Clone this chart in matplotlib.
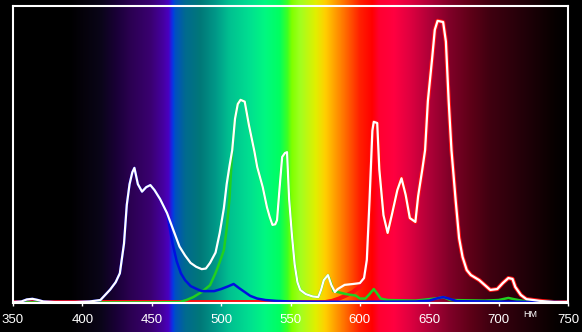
import numpy as np
import matplotlib
matplotlib.use("Agg")
import matplotlib.pyplot as plt
from matplotlib.colors import LinearSegmentedColormap, to_rgb

# ---- data (wavelength nm, relative intensity %) ----
white_nm = [350, 356, 360, 364, 368, 372, 380, 395, 405, 410, 413, 416, 420, 424, 427, 430, 432, 434,
            436, 437.5, 440, 443, 446, 449, 452, 456, 461, 466, 470, 474, 478, 482, 486, 489, 492, 496,
            499, 502, 504, 506, 508, 510, 512, 514, 517, 520, 524, 526, 530, 533, 535, 537, 539, 540.3,
            542, 544, 546, 547.5, 549, 551, 553, 555, 557, 561, 566, 570, 572, 574, 577, 579.5, 582,
            584, 589, 595, 600, 603, 605, 607, 609, 610, 612.5, 614, 617, 620, 623, 627, 630, 633, 636,
            640, 642, 645, 647, 649, 652, 654, 656, 660, 662, 664, 666, 669, 671.5, 674, 677, 680, 686,
            694, 699, 703, 707, 710, 712, 716, 720, 730, 740, 750]
white_val = [0.3, 0.5, 1.2, 1.4, 1.0, 0.5, 0.3, 0.3, 0.5, 0.8, 1.0, 2.5, 4.5, 7, 10, 20, 33, 40,
             44, 45.5, 40, 37.5, 39, 39.7, 38, 35, 30.3, 24, 19, 16, 13.5, 12.2, 11.4, 11.6, 13.5, 17,
             23.6, 32, 40, 46, 51.5, 62, 67, 68.4, 67.8, 60, 51, 45.8, 39, 32.3, 29, 26.3, 26.5, 27.9,
             38, 49.2, 50.5, 50.8, 35, 23, 13, 7, 4.4, 3, 2.2, 2.0, 4.4, 7.7, 9.4, 6, 3.7,
             4.7, 6.1, 6.4, 6.7, 8.4, 14.5, 35, 58, 61, 60.6, 45, 29.6, 23.6, 29.6, 38, 42, 36.4, 28.6,
             27.3, 36, 45, 51.5, 68, 82, 92, 95, 94.6, 88, 68, 51.5, 34.7, 21.9, 15.5, 11.1, 9.4, 7.7,
             4.4, 4.7, 6.7, 8.4, 8.1, 5.4, 2.7, 1.3, 0.7, 0.3, 0.3]

blue_nm_tail = [465, 468, 471, 474, 478, 482, 486, 490, 495, 500, 505, 509, 513, 517, 521, 526, 532,
                540, 550, 570, 600, 640, 650, 656, 660, 664, 670, 700, 720, 740, 750]
blue_val_tail = [20, 14, 10, 7.7, 5.7, 4.8, 4.0, 4.0, 4.0, 4.7, 5.6, 6.4, 5.0, 3.7, 2.4, 1.5, 1.0,
                 0.7, 0.5, 0.4, 0.4, 0.5, 0.8, 1.6, 2.0, 1.5, 0.6, 0.5, 0.4, 0.4, 0.3]

green_nm_head = [350, 400, 450, 470, 475, 480, 486, 492, 496, 499, 502, 504, 506]
green_val_head = [0.2, 0.2, 0.2, 0.3, 1.0, 2.0, 3.7, 6.0, 10.1, 13.8, 17.8, 25, 35]
green_nm_tail = [579, 581, 584, 590, 597, 600, 604, 607, 610, 612, 615, 620, 640, 656, 660, 665,
                 690, 700, 707, 712, 720, 740, 750]
green_val_tail = [7.0, 4.0, 3.7, 3.0, 2.5, 1.5, 1.5, 3.0, 4.7, 3.5, 1.5, 1.0, 0.8, 1.6, 2.0, 1.0,
                  0.8, 1.0, 1.7, 1.2, 0.5, 0.3, 0.3]

red_nm_head = [350, 400, 500, 575, 580, 585, 590, 595, 600]
red_val_head = [0.3, 0.3, 0.3, 0.3, 0.7, 1.5, 2.5, 3.7, 5.5]

spec_nm = [350, 390, 400, 413, 425, 434, 449, 458, 462, 464, 465.5, 467, 474, 485, 496, 506, 521,
           532, 542, 548, 551, 557, 568, 575, 582, 589, 600, 609, 614, 625, 636, 650, 665, 679, 694,
           720, 740, 750]
spec_col = ["#000000", "#000000", "#05020a", "#0a0518", "#1a0038", "#2a0050", "#3a0070", "#4500a0",
            "#4a00c0", "#2020e0", "#0040e0", "#0050c0", "#006a90", "#007878", "#009888", "#00c090",
            "#00e090", "#00f880", "#00ff60", "#40ff20", "#80ff00", "#a0ff20", "#e0f000", "#ffd000",
            "#ffa000", "#ff7000", "#ff2000", "#ff0000", "#ff0030", "#ff0040", "#e00040", "#b00038",
            "#800028", "#600018", "#400010", "#200008", "#080000", "#000000"]

xticks = [350, 400, 450, 500, 550, 600, 650, 700, 750]
unit_label = "нм"

# ---- derived series ----
wn = np.array(white_nm, float)
wv = np.array(white_val, float)
bmask = wn < 463
blue_nm = np.concatenate([wn[bmask], blue_nm_tail])
blue_val = np.concatenate([wv[bmask], blue_val_tail])
gmask = (wn >= 508) & (wn <= 578)
green_nm = np.concatenate([green_nm_head, wn[gmask], green_nm_tail])
green_val = np.concatenate([green_val_head, wv[gmask], green_val_tail])
rmask = wn >= 603
red_nm = np.concatenate([red_nm_head, wn[rmask]])
red_val = np.concatenate([red_val_head, wv[rmask]])

# ---- figure ----
W, H = 582, 332
fig = plt.figure(figsize=(W / 100, H / 100), dpi=100, facecolor="black")
ax = fig.add_axes([13 / W, 29 / H, (568 - 13) / W, (303 - 6) / H])
ax.set_facecolor("black")
ax.set_xlim(350, 750)
ax.set_ylim(0, 100)

pos = [(n - 350) / 400 for n in spec_nm]
cmap = LinearSegmentedColormap.from_list("spec", list(zip(pos, [to_rgb(c) for c in spec_col])), N=1024)
grad = np.linspace(0, 1, 1600)[None, :]
ax.imshow(grad, cmap=cmap, aspect="auto", extent=[350, 750, -10, 102.5],
          origin="lower", clip_on=False, zorder=0, interpolation="bilinear")

ax.plot(red_nm, red_val, color="#ff1010", lw=3.0, zorder=2, solid_joinstyle="round")
ax.plot(green_nm, green_val, color="#20d020", lw=1.8, zorder=3, solid_joinstyle="round")
ax.plot(blue_nm, blue_val, color="#0010e0", lw=1.8, zorder=4, solid_joinstyle="round")
ax.plot(wn, wv, color="white", lw=1.6, zorder=5, solid_joinstyle="round")

for s in ax.spines.values():
    s.set_color("white")
    s.set_linewidth(1.5)
    s.set_zorder(6)

ax.set_xticks(xticks)
ax.set_xticklabels([str(t) for t in xticks], fontsize=9.5, family="Liberation Sans", color="white")
ax.tick_params(axis="x", colors="white", direction="out", length=2.5, width=1, pad=5.5)
ax.set_yticks([])

ax.text(722.5, -4, unit_label.upper(), color="white", fontsize=6.5, family="Liberation Sans",
        ha="center", va="center", clip_on=False)

fig.savefig("out.png", dpi=100, facecolor="black")
